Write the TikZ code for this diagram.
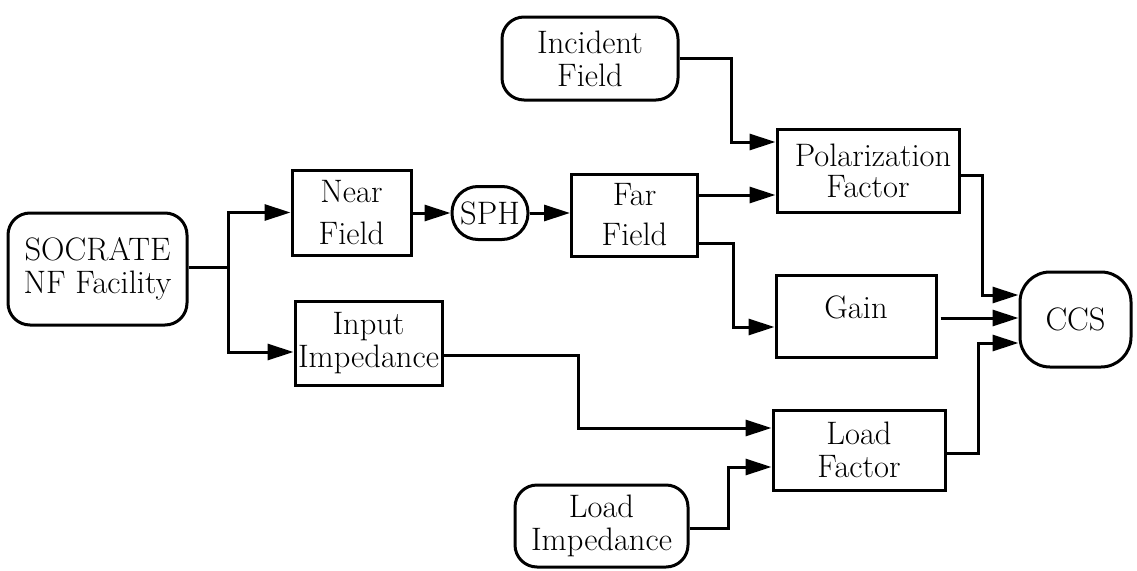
\documentclass[tikz,border=0pt]{standalone}
\usepackage{fontspec}
\usetikzlibrary{arrows.meta,calc}
\begin{document}
\begin{tikzpicture}[x=1pt,y=-1pt,
  box/.style={draw,line width=3pt,inner sep=0pt,align=center,font=\rmfamily\fontsize{32.5}{33}\selectfont},
  rbox/.style={box,rounded corners=22pt},
  arr/.style={line width=3pt,-{Triangle[length=26pt,width=16pt]}},
  ln/.style={line width=3pt}]
\useasboundingbox (0,0) rectangle (1137,570);

% nodes
\node[rbox,minimum width=179pt,minimum height=112pt] (soc) at (97.5,269) {SOCRATE\\NF Facility};
\node[box,minimum width=119pt,minimum height=85pt] (near) at (351.5,212.5) {Near\\[9pt]Field};
\node[rbox,rounded corners=26pt,minimum width=76pt,minimum height=53pt] (sph) at (490,213) {SPH};
\node[box,minimum width=126pt,minimum height=82pt] (far) at (634.5,215) {Far\\[7pt]Field};
\node[rbox,minimum width=176pt,minimum height=83pt] (inc) at (590,58.5) {Incident\\Field};
\node[box,minimum width=182pt,minimum height=83pt,font=\rmfamily\fontsize{32.5}{31}\selectfont] (pol) at (868,170.5) {\hspace*{10pt}Polarization\\Factor};
\node[box,minimum width=160pt,minimum height=82pt,text height=23pt,text depth=19pt] (gain) at (856,316) {Gain};
\node[rbox,rounded corners=30pt,minimum width=111pt,minimum height=95pt] (ccs) at (1075.5,319.5) {CCS};
\node[box,minimum width=147pt,minimum height=84pt] (inp) at (368.5,343) {Input\\Impedance};
\node[box,minimum width=172pt,minimum height=80pt] (load) at (859,450) {Load\\Factor};
\node[rbox,minimum width=173pt,minimum height=82pt] (limp) at (601.5,526) {Load\\Impedance};

% junction
\coordinate (j1) at (228,267);

% connectors
\draw[ln] (soc.east |- j1) -- (j1);
\draw[arr] (j1) |- (near.west);
\draw[arr] (j1) |- ($(inp.west)+(0,9)$);
\draw[arr] (near.east |- sph.west) -- (sph.west);
\draw[arr] (sph.east) -- (far.west |- sph.east);
\draw[arr] ($(far.east)+(0,-20)$) -- ($(pol.west)+(0,24.5)$);
\draw[arr] ($(far.east)+(0,28)$) -| (733,300) |- ($(gain.west)+(0,11)$);
\draw[arr] (inc.east) -| (731,100) |- ($(pol.west)+(0,-28.5)$);
\draw[arr] ($(pol.east)+(0,4.5)$) -| (982,250) |- ($(ccs.west)+(0,-24.5)$);
\draw[arr] ($(gain.east)+(3,2)$) -- ($(ccs.west)+(0,-1.5)$);
\draw[arr] ($(load.east)+(0,3)$) -| (978,400) |- ($(ccs.west)+(0,23.5)$);
\draw[arr] ($(inp.east)+(0,12)$) -| (578,400) |- ($(load.west)+(0,-22)$);
\draw[arr] ($(limp.east)+(0,2)$) -| (728,500) |- ($(load.west)+(0,17)$);
\end{tikzpicture}
\end{document}
